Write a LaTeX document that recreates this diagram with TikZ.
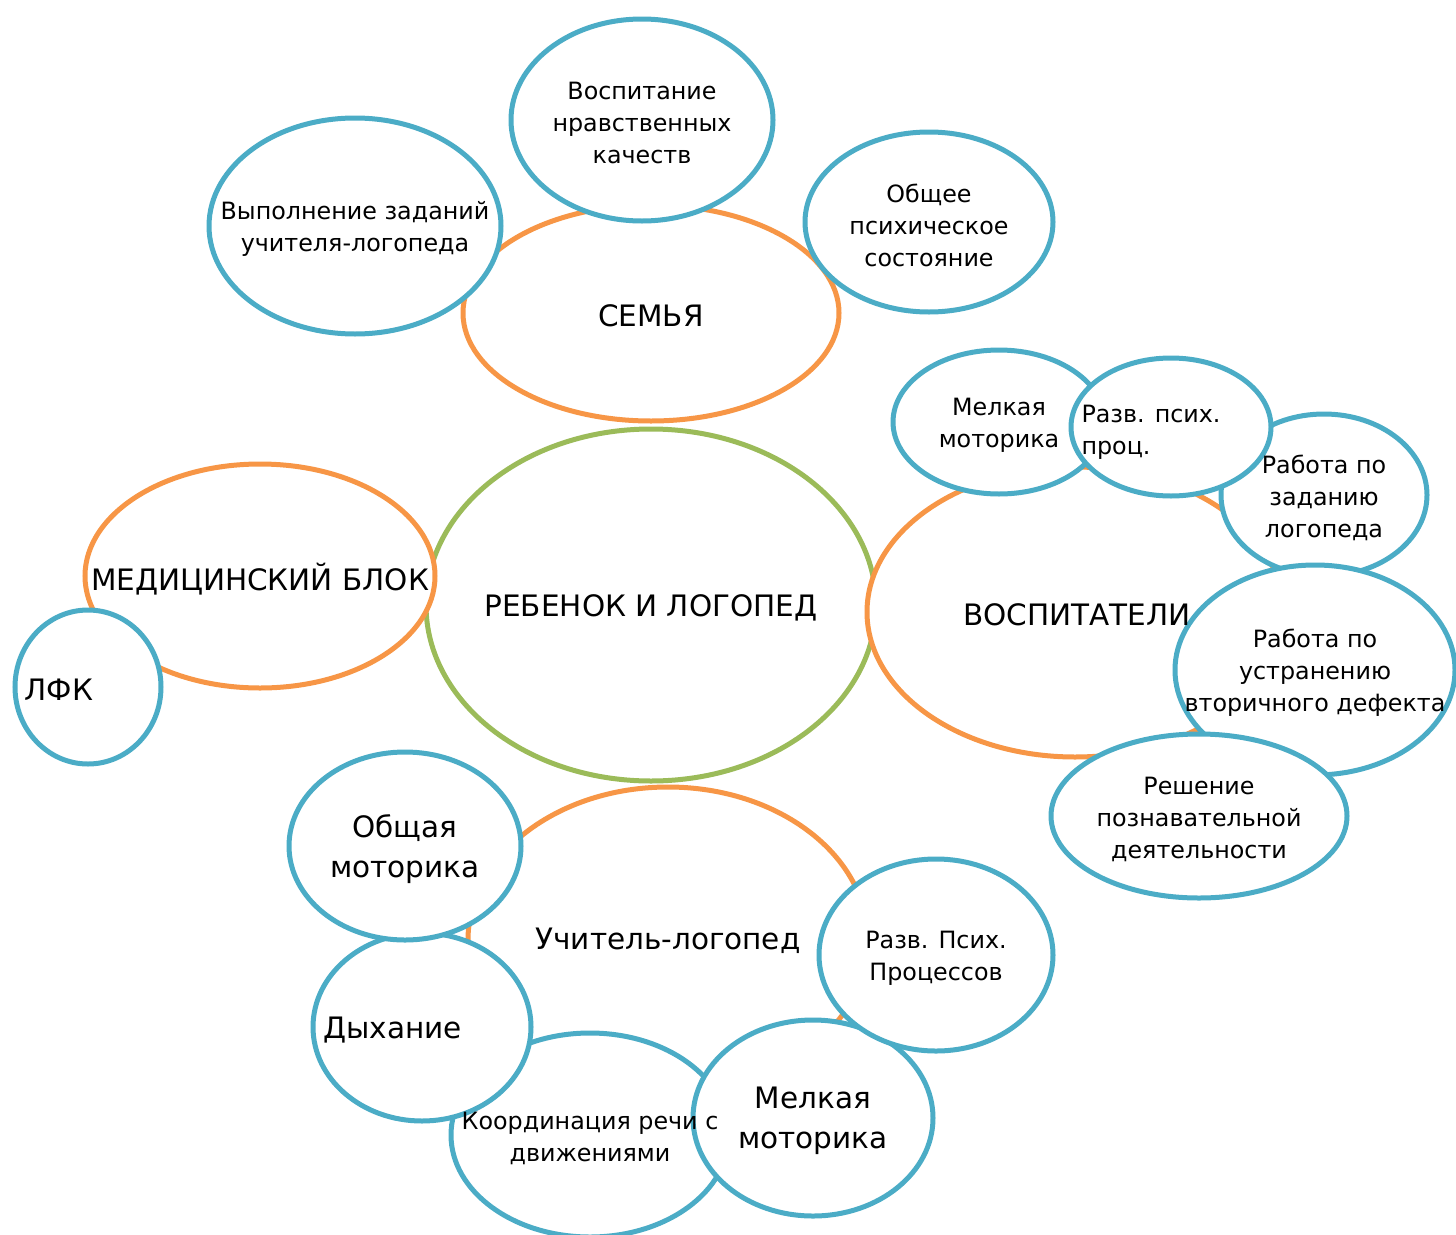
\documentclass[tikz,border=0pt]{standalone}
\usepackage{fontspec}
\setmainfont{DejaVu Sans}
\usetikzlibrary{shapes.geometric}
\definecolor{orangeline}{HTML}{F79646}
\definecolor{blueline}{HTML}{4BACC6}
\definecolor{greenline}{HTML}{9BBB59}
\begin{document}
\begin{tikzpicture}[x=1pt, y=-1pt, line width=5pt,
  blob/.style={ellipse, draw, fill=white, inner sep=0pt},
  bigblob/.style={blob, draw=orangeline},
  smallblob/.style={blob, draw=blueline},
  small/.style={align=center, inner sep=0pt, yshift=-3pt, font=\fontsize{23.8}{32}\selectfont},
  large/.style={align=center, inner sep=0pt, yshift=-3pt, font=\fontsize{29.5}{39.5}\selectfont}]
\useasboundingbox (0,0) rectangle (1456,1234);
% Центр и четыре блока
\node[blob, draw=greenline, minimum width=450pt, minimum height=352pt] (rebenok) at (651,605) {};
\node[bigblob, minimum width=376pt, minimum height=216pt] (semya) at (651,313) {};
\node[bigblob, minimum width=350pt, minimum height=224pt] (med) at (260,576) {};
\node[bigblob, minimum width=416pt, minimum height=290pt] (vosp) at (1075,612) {};
\node[bigblob, minimum width=400pt, minimum height=306pt] (uchitel) at (668,940) {};
% Семья
\node[smallblob, minimum width=292pt, minimum height=216pt] (vypoln) at (355,226) {};
\node[smallblob, minimum width=262pt, minimum height=202pt] (nravst) at (642,120) {};
\node[smallblob, minimum width=248pt, minimum height=180pt] (psihsost) at (929,222) {};
% Медицинский блок
\node[smallblob, minimum width=146pt, minimum height=154pt] (lfk) at (88,687) {};
% Воспитатели
\node[smallblob, minimum width=212pt, minimum height=144pt] (melkA) at (999,422) {};
\node[smallblob, minimum width=206pt, minimum height=162pt] (zadanie) at (1324,495) {};
\node[smallblob, minimum width=200pt, minimum height=138pt] (razvA) at (1171,427) {};
\node[smallblob, minimum width=280pt, minimum height=210pt] (defekt) at (1315,670) {};
\node[smallblob, minimum width=296pt, minimum height=164pt] (reshenie) at (1199,816) {};
% Учитель-логопед
\node[smallblob, minimum width=278pt, minimum height=204pt] (koord) at (590,1135) {};
\node[smallblob, minimum width=218pt, minimum height=188pt] (dyhanie) at (422,1027) {};
\node[smallblob, minimum width=232pt, minimum height=188pt] (obshmot) at (405,846) {};
\node[smallblob, minimum width=240pt, minimum height=196pt] (melkB) at (813,1118) {};
\node[smallblob, minimum width=234pt, minimum height=192pt] (razvB) at (936,955) {};
% Подписи
\node[large] (rebenokT) at (rebenok) {РЕБЕНОК И ЛОГОПЕД};
\node[large] (semyaT) at (semya) {СЕМЬЯ};
\node[large] (medT) at (med) {МЕДИЦИНСКИЙ БЛОК};
\node[large] (vospT) at (1077,612) {ВОСПИТАТЕЛИ};
\node[large] (uchitelT) at (668,938) {Учитель-логопед};
\node[small] (vypolnT) at (vypoln) {Выполнение заданий\\учителя-логопеда};
\node[small] (nravstT) at (nravst) {Воспитание\\нравственных\\качеств};
\node[small] (psihsostT) at (psihsost) {Общее\\психическое\\состояние};
\node[large, anchor=west] (lfkT) at (22,687) {ЛФК};
\node[small] (melkAT) at (melkA) {Мелкая\\моторика};
\node[small, align=left, anchor=west] (razvAT) at (1079,429) {Разв. псих.\\проц.};
\node[small] (zadanieT) at (zadanie) {Работа по\\заданию\\логопеда};
\node[small] (defektT) at (defekt) {Работа по\\устранению\\вторичного дефекта};
\node[small] (reshenieT) at (reshenie) {Решение\\познавательной\\деятельности};
\node[small] (koordT) at (590,1135) {Координация речи с\\движениями};
\node[large, anchor=west] (dyhanieT) at (321,1027) {Дыхание};
\node[large] (obshmotT) at (obshmot) {Общая\\моторика};
\node[large] (melkBT) at (melkB) {Мелкая\\моторика};
\node[small] (razvBT) at (razvB) {Разв. Псих.\\Процессов};
\end{tikzpicture}
\end{document}
